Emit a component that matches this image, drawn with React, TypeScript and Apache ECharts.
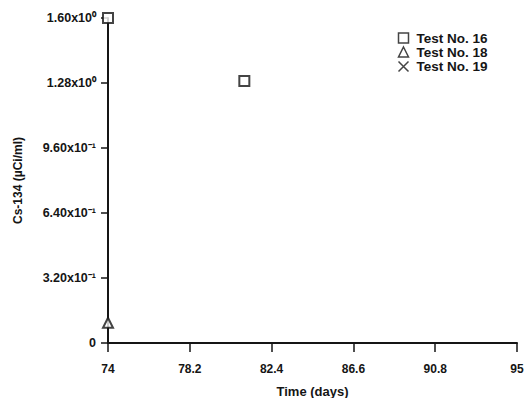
import React, { useEffect, useRef } from "react";
import * as echarts from "echarts";

const xOrigin = 74;
const xTickLabels = ["74", "78.2", "82.4", "86.6", "90.8", "95"];
const yTickLabels = ["0", "3.20x10⁻¹", "6.40x10⁻¹", "9.60x10⁻¹", "1.28x10⁰", "1.60x10⁰"];

const test16Time = [74, 81.0];
const test16Value = [1.6, 1.29];
const test18Time = [74];
const test18Value = [0.1];
const test19Time: number[] = [];
const test19Value: number[] = [];

const FONT = "Liberation Sans";
const INK = "#151515";
const CROSS = "path://M0,0L10,10M10,0L0,10";

function pts(t: number[], v: number[]) {
  return t.map((x, i) => [x - xOrigin, v[i]]);
}

export default function App() {
  const ref = useRef<HTMLDivElement>(null);
  useEffect(() => {
    if (!ref.current) return;
    const chart = echarts.init(ref.current, undefined, { renderer: "svg" });
    const hollow = { color: "#fff", borderColor: INK, borderWidth: 2 };
    chart.setOption({
      animation: false,
      backgroundColor: "#fff",
      grid: { left: 108, right: 9, top: 18, bottom: 55, outerBoundsMode: "none", containLabel: false },
      legend: {
        orient: "vertical",
        left: 391,
        top: 26,
        itemGap: 0,
        itemWidth: 10,
        itemHeight: 10,
        textStyle: {
          fontFamily: FONT,
          fontWeight: "bold",
          fontSize: 13.5,
          lineHeight: 13,
          color: INK,
          padding: [0, 0, 0, 3],
        },
        data: [
          { name: "Test No. 16", icon: "rect", itemStyle: { color: "#fff", borderColor: INK, borderWidth: 1.5 } },
          { name: "Test No. 18", icon: "triangle", itemStyle: { color: "#fff", borderColor: INK, borderWidth: 1.5 } },
          { name: "Test No. 19", icon: CROSS, itemStyle: { color: "none", borderColor: INK, borderWidth: 1.5 } },
        ],
      },
      xAxis: {
        type: "value",
        min: 0,
        max: 21,
        interval: 4.2,
        name: "Time (days)",
        nameLocation: "middle",
        nameGap: 42,
        nameTextStyle: { fontFamily: FONT, fontWeight: "bold", fontSize: 13, color: INK },
        axisLine: { show: true, lineStyle: { color: INK, width: 2 } },
        axisTick: { show: true, length: 9, lineStyle: { color: INK, width: 1.5 } },
        axisLabel: {
          margin: 20,
          fontFamily: FONT,
          fontWeight: "bold",
          fontSize: 12,
          color: INK,
          formatter: (v: number) => xTickLabels[Math.round(v / 4.2)] ?? "",
        },
        splitLine: { show: false },
      },
      yAxis: {
        type: "value",
        min: 0,
        max: 1.6,
        interval: 0.32,
        name: "Cs-134 (µCi/ml)",
        nameLocation: "middle",
        nameGap: 84,
        nameRotate: 90,
        nameTextStyle: { fontFamily: FONT, fontWeight: "bold", fontSize: 12, color: INK },
        axisLine: { show: true, lineStyle: { color: INK, width: 2 } },
        axisTick: { show: true, length: 7, lineStyle: { color: INK, width: 1.5 } },
        axisLabel: {
          margin: 12,
          fontFamily: FONT,
          fontWeight: "bold",
          fontSize: 12.5,
          color: INK,
          formatter: (v: number) => yTickLabels[Math.round(v / 0.32)] ?? "",
        },
        splitLine: { show: false },
      },
      series: [
        {
          name: "Test No. 16",
          type: "scatter",
          symbol: "rect",
          symbolSize: 10,
          itemStyle: hollow,
          data: pts(test16Time, test16Value),
          z: 5,
        },
        {
          name: "Test No. 18",
          type: "scatter",
          symbol: "triangle",
          symbolSize: 10,
          itemStyle: hollow,
          data: pts(test18Time, test18Value),
          z: 5,
        },
        {
          name: "Test No. 19",
          type: "scatter",
          symbol: CROSS,
          symbolSize: 10,
          itemStyle: { color: "none", borderColor: INK, borderWidth: 2 },
          data: pts(test19Time, test19Value),
          z: 5,
        },
      ],
    });
    return () => chart.dispose();
  }, []);
  return <div ref={ref} style={{ width: 526, height: 398, position: "absolute", left: 0, top: 0 }} />;
}
